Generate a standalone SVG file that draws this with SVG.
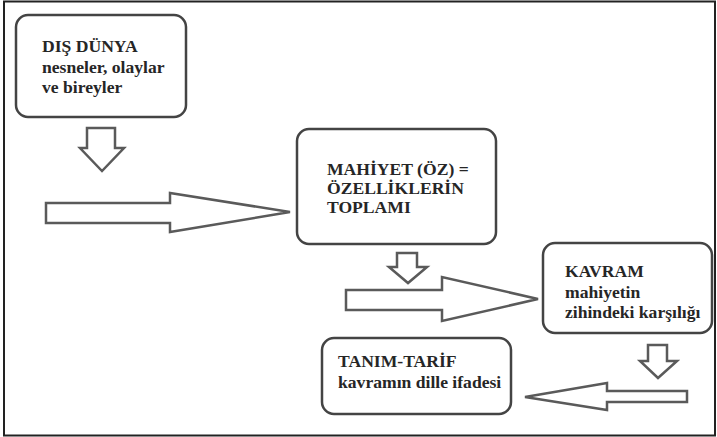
<svg xmlns="http://www.w3.org/2000/svg" width="717" height="437" viewBox="0 0 717 437">
<style>
.frame{fill:#fff;stroke:#222;stroke-width:2}
.box{fill:#fff;stroke:#444;stroke-width:2.5}
.arr{fill:#fff;stroke:#5a5a5a;stroke-width:2.5;stroke-linejoin:miter}
.t{font-family:'Liberation Serif','DejaVu Serif',serif;font-weight:bold;font-size:17.6px;fill:#262626}
</style>
<rect class="frame" x="4" y="1.5" width="711" height="434"/>
<g id="connectors">
<polygon class="arr" points="87,128 115,128 115,148 124,148 102,171 80,148 87,148"/>
<polygon class="arr" points="46,203 170,203 170,193 290,212 170,232 170,223 46,223"/>
<polygon class="arr" points="397,253 417,253 417,267 427,267 408,283 389,267 397,267"/>
<polygon class="arr" points="346,290 442,290 442,277 538,299 442,321 442,310 346,310"/>
<polygon class="arr" points="648,345 667,345 667,361 677,361 658,378 640,361 648,361"/>
<polygon class="arr" points="687,391 607,391 607,383 525,397 607,410 607,402 687,402"/>
</g>
<g id="dis-dunya">
<rect class="box" x="16" y="15" width="170" height="102" rx="12"/>
<text class="t" x="42" y="52">DIŞ DÜNYA</text>
<text class="t" x="42" y="73">nesneler, olaylar</text>
<text class="t" x="42" y="93">ve bireyler</text>
</g>
<g id="mahiyet">
<rect class="box" x="297" y="129" width="199" height="115" rx="12"/>
<text class="t" x="327" y="175">MAHİYET (ÖZ) =</text>
<text class="t" x="327" y="194">ÖZELLİKLERİN</text>
<text class="t" x="327" y="213">TOPLAMI</text>
</g>
<g id="kavram">
<rect class="box" x="543" y="243" width="169" height="90" rx="12"/>
<text class="t" x="565" y="277">KAVRAM</text>
<text class="t" x="565" y="298">mahiyetin</text>
<text class="t" x="565" y="318">zihindeki karşılığı</text>
</g>
<g id="tanim-tarif">
<rect class="box" x="322" y="338" width="189" height="76" rx="12"/>
<text class="t" x="338" y="367">TANIM-TARİF</text>
<text class="t" x="338" y="388">kavramın dille ifadesi</text>
</g>
</svg>
